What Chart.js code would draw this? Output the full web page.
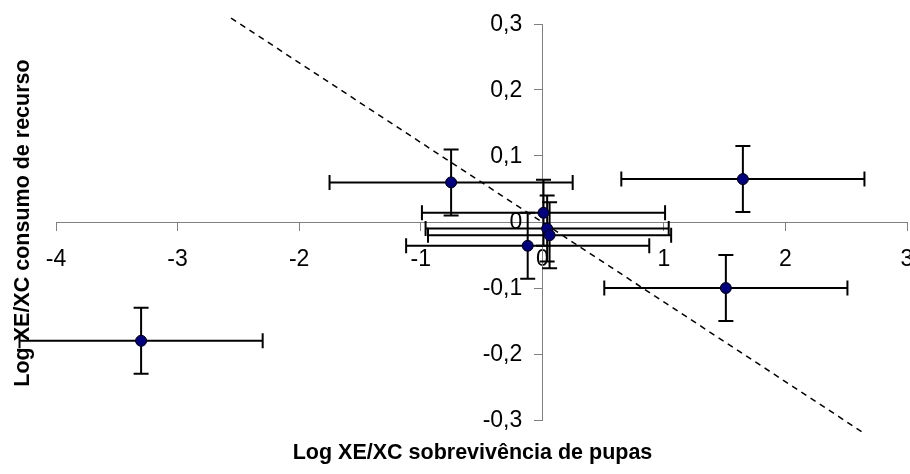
<!DOCTYPE html>
<html>
<head>
<meta charset="utf-8">
<script src="https://cdn.jsdelivr.net/npm/chart.js@4.4.1/dist/chart.umd.min.js"></script>
<style>
  html, body { margin: 0; padding: 0; background: #ffffff; }
  canvas { display: block; }
</style>
</head>
<body>
<canvas id="chart" width="910" height="474"></canvas>
<script>
// Log XE/XC: pupal survival (x) against resource consumption (y)
const survivalLog = [-3.30, -0.75, 1.65, 1.51, 0.01, 0.04, 0.06, -0.12];
const consumptionLog = [-0.180, 0.060, 0.065, -0.100, 0.014, -0.010, -0.020, -0.036];
const survivalErr = [1, 1, 1, 1, 1, 1, 1, 1];
const consumptionErr = [0.05, 0.05, 0.05, 0.05, 0.05, 0.05, 0.05, 0.05];

// reference line (dashed)
const refLineX = [-2.56, 2.63];
const refLineY = [0.309, -0.318];

const xTickValues = [-4, -3, -2, -1, 0, 1, 2, 3];
const yTickValues = [-0.3, -0.2, -0.1, 0, 0.1, 0.2, 0.3];

const xTitle = 'Log XE/XC sobrevivência de pupas';
const yTitle = 'Log XE/XC consumo de recurso';

const points = survivalLog.map((v, i) => ({ x: v, y: consumptionLog[i] }));
const refLine = refLineX.map((v, i) => ({ x: v, y: refLineY[i] }));

const tickFont = '23px "Liberation Sans", Arial, sans-serif';
const titleFont = 'bold 21.5px "Liberation Sans", Arial, sans-serif';
const axisColor = '#808080';

const fmt = v => {
  if (Math.abs(v) < 1e-9) return '0';
  return (Math.round(v * 10) / 10).toString().replace('.', ',');
};

const noScalePadding = scale => {
  scale.paddingLeft = 0;
  scale.paddingRight = 0;
  scale.paddingTop = 0;
  scale.paddingBottom = 0;
};

// whiskers in both directions, drawn beneath the markers
const errorBars = {
  id: 'errorBars',
  beforeDatasetsDraw(chart) {
    const { ctx } = chart;
    const xs = chart.scales.x, ys = chart.scales.y;
    const cap = 7.5;
    ctx.save();
    ctx.strokeStyle = '#000000';
    ctx.lineWidth = 2;
    ctx.lineCap = 'butt';
    survivalLog.forEach((xv, i) => {
      const yv = consumptionLog[i];
      const px = xs.getPixelForValue(xv);
      const py = ys.getPixelForValue(yv);
      const xl = xs.getPixelForValue(xv - survivalErr[i]);
      const xr = xs.getPixelForValue(xv + survivalErr[i]);
      const yt = ys.getPixelForValue(yv + consumptionErr[i]);
      const yb = ys.getPixelForValue(yv - consumptionErr[i]);
      ctx.beginPath();
      ctx.moveTo(xl, py); ctx.lineTo(xr, py);
      ctx.moveTo(xl, py - cap); ctx.lineTo(xl, py + cap);
      ctx.moveTo(xr, py - cap); ctx.lineTo(xr, py + cap);
      ctx.moveTo(px, yt); ctx.lineTo(px, yb);
      ctx.moveTo(px - cap, yt); ctx.lineTo(px + cap, yt);
      ctx.moveTo(px - cap, yb); ctx.lineTo(px + cap, yb);
      ctx.stroke();
    });
    ctx.restore();
  }
};

// y tick labels sit left of the outward tick marks; axis titles at the edges
const axisText = {
  id: 'axisText',
  afterDraw(chart) {
    const { ctx, chartArea } = chart;
    const xs = chart.scales.x, ys = chart.scales.y;
    const axisX = xs.getPixelForValue(0);
    ctx.save();
    ctx.fillStyle = '#000000';
    ctx.font = tickFont;
    ctx.textAlign = 'right';
    ctx.textBaseline = 'middle';
    yTickValues.forEach(v => {
      ctx.fillText(fmt(v), axisX - 20, ys.getPixelForValue(v) + 1);
    });

    ctx.font = titleFont;
    ctx.textAlign = 'center';
    ctx.textBaseline = 'alphabetic';
    ctx.fillText(xTitle, (chartArea.left + chartArea.right) / 2 - 9, 459);
    ctx.translate(29, (chartArea.top + chartArea.bottom) / 2 + 1);
    ctx.rotate(-Math.PI / 2);
    ctx.fillText(yTitle, 0, 0);
    ctx.restore();
  }
};

new Chart(document.getElementById('chart'), {
  type: 'scatter',
  data: {
    datasets: [
      {
        type: 'line',
        data: refLine,
        borderColor: '#000000',
        borderWidth: 1.5,
        borderDash: [6, 5],
        pointRadius: 0,
        fill: false,
        clip: false,
        order: 2
      },
      {
        data: points,
        backgroundColor: '#000080',
        borderColor: '#000000',
        borderWidth: 1,
        pointRadius: 5.5,
        pointHoverRadius: 5.5,
        clip: false,
        order: 1
      }
    ]
  },
  options: {
    responsive: false,
    animation: false,
    devicePixelRatio: 1,
    layout: { autoPadding: false, padding: { left: 56, right: 3, top: 24, bottom: 54 } },
    plugins: {
      legend: { display: false },
      tooltip: { enabled: false },
      title: { display: false }
    },
    scales: {
      x: {
        type: 'linear',
        position: { y: 0 },
        min: -4,
        max: 3,
        afterBuildTicks(scale) { scale.ticks = xTickValues.map(v => ({ value: v })); },
        afterFit: noScalePadding,
        ticks: {
          callback: v => fmt(v),
          color: '#000000',
          font: { family: '"Liberation Sans", Arial, sans-serif', size: 23 },
          padding: 16,
          maxRotation: 0,
          autoSkip: false
        },
        grid: {
          display: true,
          drawOnChartArea: false,
          drawTicks: true,
          tickLength: 8,
          tickColor: axisColor,
          tickWidth: 1
        },
        border: { display: true, color: axisColor, width: 1 }
      },
      y: {
        type: 'linear',
        position: { x: 0 },
        min: -0.3,
        max: 0.3,
        afterBuildTicks(scale) { scale.ticks = yTickValues.map(v => ({ value: v })); },
        afterFit: noScalePadding,
        ticks: { display: false },
        grid: {
          display: true,
          drawOnChartArea: false,
          drawTicks: true,
          tickLength: 8,
          tickColor: axisColor,
          tickWidth: 1
        },
        border: { display: true, color: axisColor, width: 1 }
      }
    }
  },
  plugins: [errorBars, axisText]
});
</script>
</body>
</html>
